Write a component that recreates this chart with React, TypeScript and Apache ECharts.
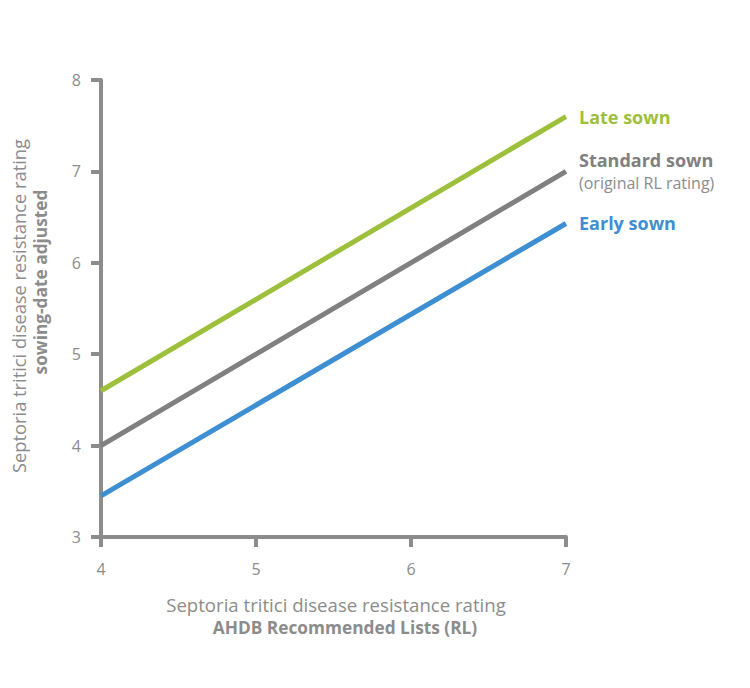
import React, { useEffect, useRef } from "react";
import * as echarts from "echarts";

const xValues = [4, 7];
const lateSown = [4.6, 7.6];
const standardSown = [4, 7];
const earlySown = [3.45, 6.43];
const xTicks = [4, 5, 6, 7];
const yTicks = [3, 4, 5, 6, 7, 8];

const GREY = "#8c8c8c";
const FONT = "Open Sans";

export default function App() {
  const ref = useRef<HTMLDivElement>(null);
  useEffect(() => {
    document.body.style.margin = "0";
    const chart = echarts.init(ref.current!, null, { renderer: "svg" });
    const mk = (vals: number[]) => xValues.map((x, i) => [x, vals[i]]);
    const txt = (text: string, x: number, y: number, bold: boolean, rot: number, size: number) => ({
      type: "text",
      x,
      y,
      rotation: rot,
      style: {
        text,
        fill: GREY,
        fontFamily: FONT,
        fontSize: size,
        fontWeight: bold ? "bold" : "normal",
        align: "center",
        verticalAlign: "middle",
      },
    });
    const option = {
      animation: false,
      backgroundColor: "#ffffff",
      grid: { left: 101, right: 184, top: 80, bottom: 151 },
      xAxis: {
        type: "value",
        min: xTicks[0],
        max: xTicks[xTicks.length - 1],
        interval: 1,
        axisLine: { show: true, lineStyle: { color: GREY, width: 4 } },
        axisTick: { show: true, length: 10, lineStyle: { color: GREY, width: 4 } },
        splitLine: { show: false },
        axisLabel: { color: GREY, fontFamily: FONT, fontSize: 16, margin: 24 },
      },
      yAxis: {
        type: "value",
        min: yTicks[0],
        max: yTicks[yTicks.length - 1],
        interval: 1,
        axisLine: { show: true, lineStyle: { color: GREY, width: 4 } },
        axisTick: { show: true, length: 10, lineStyle: { color: GREY, width: 4 } },
        splitLine: { show: false },
        axisLabel: { color: GREY, fontFamily: FONT, fontSize: 16, margin: 20 },
      },
      graphic: [
        txt("Septoria tritici disease resistance rating", 18, 306, false, Math.PI / 2, 18.3),
        txt("sowing-date adjusted", 40, 282, true, Math.PI / 2, 17.3),
        txt("Septoria tritici disease resistance rating", 336, 604, false, 0, 18.6),
        txt("AHDB Recommended Lists (RL)", 345, 627, true, 0, 17.3),
      ],
      series: [
        {
          name: "Late sown",
          type: "line",
          data: mk(lateSown),
          symbol: "none",
          lineStyle: { color: "#9dc03c", width: 5 },
          endLabel: {
            show: true,
            distance: 13,
            formatter: "Late sown",
            color: "#9dc03c",
            fontFamily: FONT,
            fontWeight: "bold",
            fontSize: 18,
          },
        },
        {
          name: "Standard sown",
          type: "line",
          data: mk(standardSown),
          symbol: "none",
          lineStyle: { color: "#808080", width: 5 },
          endLabel: {
            show: true,
            distance: 13,
            formatter: "{b|Standard sown}\n{n|(original RL rating)}",
            rich: {
              b: { color: "#808080", fontFamily: FONT, fontWeight: "bold", fontSize: 18, lineHeight: 23 },
              n: { color: "#8c8c8c", fontFamily: FONT, fontSize: 16, lineHeight: 23 },
            },
          },
        },
        {
          name: "Early sown",
          type: "line",
          data: mk(earlySown),
          symbol: "none",
          lineStyle: { color: "#3d8fd2", width: 5 },
          endLabel: {
            show: true,
            distance: 13,
            formatter: "Early sown",
            color: "#3d8fd2",
            fontFamily: FONT,
            fontWeight: "bold",
            fontSize: 18,
          },
        },
      ],
    };
    chart.setOption(option as any);
    return () => chart.dispose();
  }, []);
  return <div ref={ref} style={{ width: 750, height: 688 }} />;
}
